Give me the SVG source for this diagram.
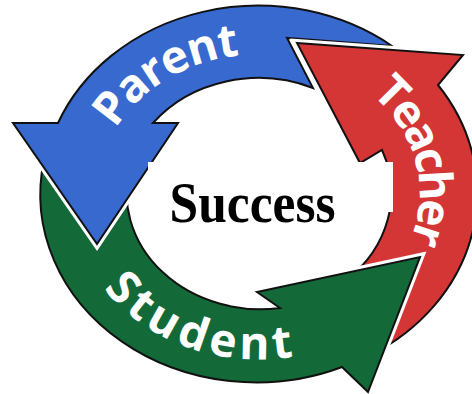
<svg xmlns="http://www.w3.org/2000/svg" width="472" height="394" viewBox="0 0 472 394">
<style>
.halo{fill:none;stroke:#fff;stroke-width:8;stroke-linejoin:miter;stroke-miterlimit:10}
.body{stroke:#111;stroke-width:2;stroke-linejoin:miter;stroke-miterlimit:10}
.blue{fill:#3769cf}
.red{fill:#d43636}
.green{fill:#136a38}
.lbl{font-family:"Open Sans","DejaVu Sans",sans-serif;font-weight:700;font-size:46px;fill:#fff}
.title{font-family:"Liberation Serif","Times New Roman",serif;font-weight:700;font-size:57px;fill:#000}
</style>
<defs>
<path id="pGreen" d="M44,160 A216,188 0 0 0 342,367 L368,392 L420,257 L257,292 L280,308 A134,117 0 0 1 129.4,168 Z"/>
<path id="pBlue" d="M392,46 A216,188 0 0 0 58,123 L13,123 L97,244 L178,123 L153,123 A134,117 0 0 1 313,88 L287,38 Z"/>
<path id="pRed" d="M297,43 L463,55 L438,85 A216,188 0 0 1 371,355 L346.6,280 A134,117 0 0 0 382,150 L360,163 Z"/>
<clipPath id="cGreenHead"><rect x="230" y="225" width="242" height="169"/></clipPath>
<path id="tParent" d="M84.0,181.3 A175,152.5 0 0 1 302.0,45.3"/>
<path id="tTeacher" d="M340.1,58.1 A175,152.5 0 0 1 396.8,286.5"/>
<path id="tStudent" d="M91.1,237.3 A175,152.5 0 0 0 337.7,329.0"/>
</defs>
<g id="student">
<use href="#pGreen" class="halo"/>
<use href="#pGreen" class="body green"/>
</g>
<g id="parent">
<use href="#pBlue" class="halo"/>
<use href="#pBlue" class="body blue"/>
<text class="lbl" dy="14"><textPath href="#tParent" startOffset="50%" text-anchor="middle" textLength="160">Parent</textPath></text>
</g>
<g id="teacher">
<use href="#pRed" class="halo"/>
<use href="#pRed" class="body red"/>
<text class="lbl" dy="14"><textPath href="#tTeacher" startOffset="50%" text-anchor="middle" textLength="178">Teacher</textPath></text>
</g>
<g id="student-head">
<g clip-path="url(#cGreenHead)">
<use href="#pGreen" class="halo"/>
<use href="#pGreen" class="body green"/>
</g>
<text class="lbl" dy="14"><textPath href="#tStudent" startOffset="50%" text-anchor="middle" textLength="198">Student</textPath></text>
</g>
<g id="success">
<rect x="148" y="162" width="245" height="50" fill="#fff"/>
<text class="title" x="252.5" y="222" text-anchor="middle" textLength="166" lengthAdjust="spacingAndGlyphs">Success</text>
</g>
</svg>
